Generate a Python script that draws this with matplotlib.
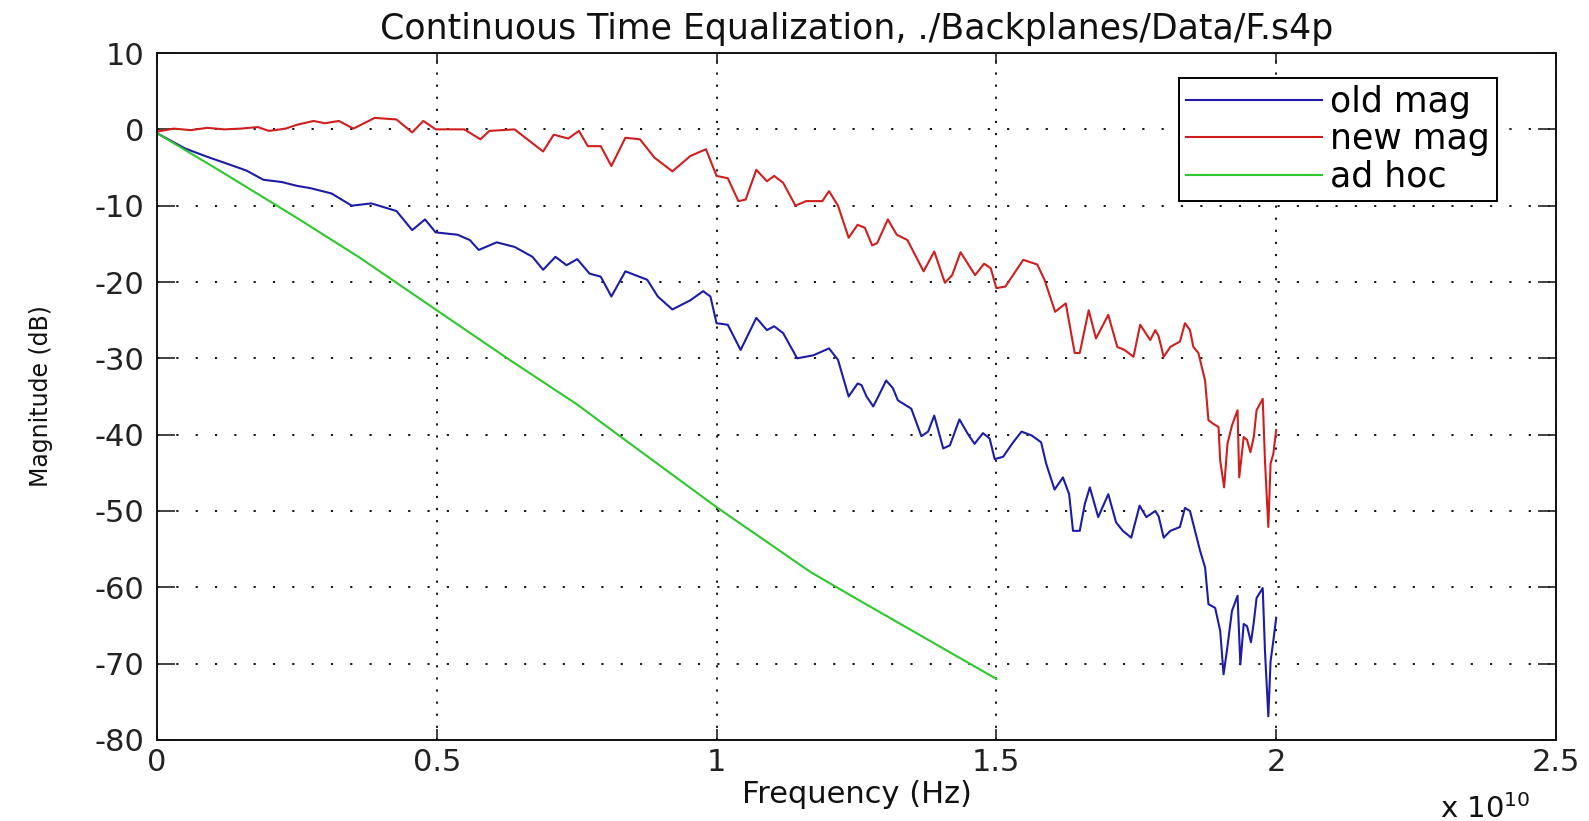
import numpy as np
import matplotlib
matplotlib.use("Agg")
from matplotlib import pyplot as plt
from matplotlib.ticker import FuncFormatter

# frequencies in units of 1e10 Hz, magnitudes in dB
f_old = [0.0, 0.05, 0.09, 0.133, 0.16, 0.19, 0.223, 0.25, 0.274, 0.312, 0.348, 0.383,
         0.428, 0.456, 0.479, 0.498, 0.537, 0.559, 0.575, 0.607, 0.639, 0.671, 0.69,
         0.712, 0.732, 0.751, 0.773, 0.793, 0.812, 0.837, 0.876, 0.895, 0.921, 0.953,
         0.976, 0.989, 1.0, 1.02, 1.043, 1.071, 1.09, 1.103, 1.119, 1.144, 1.173,
         1.201, 1.217, 1.236, 1.252, 1.259, 1.268, 1.28, 1.289, 1.303, 1.315, 1.324,
         1.348, 1.366, 1.378, 1.389, 1.405, 1.417, 1.434, 1.449, 1.461, 1.476, 1.488,
         1.497, 1.512, 1.53, 1.545, 1.563, 1.58, 1.589, 1.604, 1.619, 1.63, 1.637,
         1.649, 1.658, 1.667, 1.682, 1.7, 1.714, 1.726, 1.741, 1.756, 1.768, 1.784,
         1.79, 1.799, 1.811, 1.828, 1.837, 1.846, 1.855, 1.864, 1.873, 1.879, 1.891,
         1.9, 1.906, 1.912, 1.921, 1.931, 1.936, 1.942, 1.948, 1.955, 1.96, 1.965,
         1.976, 1.98, 1.986, 1.99, 1.995, 2.0]
old_mag = [-0.5, -2.5, -3.6, -4.7, -5.4, -6.6, -6.9, -7.4, -7.7, -8.4, -10.0, -9.7,
           -10.7, -13.2, -11.8, -13.5, -13.8, -14.5, -15.8, -14.8, -15.4, -16.7, -18.4,
           -16.7, -17.8, -17.0, -18.9, -19.3, -21.9, -18.6, -19.7, -21.9, -23.6, -22.4,
           -21.2, -21.9, -25.4, -25.6, -28.9, -24.7, -26.3, -25.8, -26.7, -30.0, -29.6,
           -28.7, -30.2, -35.0, -33.3, -33.5, -35.0, -36.3, -35.0, -32.9, -33.9, -35.5,
           -36.6, -40.2, -39.6, -37.5, -41.8, -41.4, -38.0, -39.9, -41.2, -39.8, -40.5,
           -43.2, -42.9, -41.0, -39.6, -40.1, -41.0, -43.8, -47.2, -45.6, -47.8, -52.6,
           -52.6, -49.1, -46.9, -50.8, -47.8, -51.5, -52.6, -53.5, -49.3, -50.8, -50.0,
           -50.7, -53.5, -52.6, -52.1, -49.6, -50.0, -52.6, -55.2, -57.4, -62.2, -62.7,
           -65.7, -71.4, -68.3, -63.1, -61.1, -70.1, -64.8, -65.1, -67.2, -64.6, -61.4,
           -60.1, -68.3, -76.9, -69.7, -67.0, -64.0]

f_new = [0.0, 0.03, 0.06, 0.09, 0.12, 0.15, 0.18, 0.2, 0.23, 0.25, 0.28, 0.3, 0.325,
         0.351, 0.389, 0.428, 0.456, 0.476, 0.498, 0.549, 0.578, 0.594, 0.639, 0.69,
         0.709, 0.735, 0.754, 0.77, 0.793, 0.812, 0.837, 0.863, 0.889, 0.921, 0.953,
         0.981, 1.0, 1.02, 1.039, 1.052, 1.071, 1.09, 1.103, 1.119, 1.141, 1.16, 1.189,
         1.201, 1.217, 1.236, 1.252, 1.265, 1.278, 1.287, 1.306, 1.322, 1.341, 1.37,
         1.389, 1.408, 1.421, 1.436, 1.462, 1.478, 1.49, 1.5, 1.516, 1.548, 1.573,
         1.586, 1.605, 1.624, 1.64, 1.649, 1.665, 1.678, 1.7, 1.716, 1.729, 1.745,
         1.757, 1.775, 1.784, 1.79, 1.799, 1.811, 1.828, 1.837, 1.846, 1.852, 1.861,
         1.867, 1.873, 1.879, 1.888, 1.897, 1.9, 1.907, 1.913, 1.921, 1.931, 1.934,
         1.942, 1.948, 1.954, 1.96, 1.965, 1.976, 1.98, 1.986, 1.99, 1.995, 2.0]
new_mag = [-0.3, 0.1, -0.1, 0.2, 0.0, 0.1, 0.3, -0.2, 0.1, 0.6, 1.1, 0.8, 1.1,
           0.1, 1.5, 1.3, -0.4, 1.1, 0.0, 0.0, -1.3, -0.2, 0.0, -2.9,
           -0.7, -1.2, -0.2, -2.2, -2.2, -4.8, -1.1, -1.3, -3.7, -5.5, -3.5,
           -2.6, -6.1, -6.4, -9.4, -9.2, -5.3, -6.8, -6.1, -7.0, -10.0, -9.4, -9.4,
           -8.1, -10.0, -14.2, -12.5, -12.9, -15.2, -14.9, -11.8, -13.8, -14.5, -18.6,
           -16.0, -20.1, -19.1, -16.1, -19.1, -17.6, -18.2, -20.8, -20.6, -17.1, -17.7,
           -19.7, -23.9, -22.8, -29.3, -29.3, -23.7, -27.4, -24.3, -28.5, -28.9, -29.8,
           -25.6, -27.6, -26.3, -27.1, -29.8, -28.5, -27.8, -25.4, -26.3, -28.5, -29.3,
           -31.1, -32.9, -38.1, -38.6, -39.0, -43.4, -46.9, -41.2, -38.8, -36.8, -45.6,
           -40.3, -40.7, -42.3, -40.3, -36.8, -35.3, -43.4, -52.1, -43.8, -42.5, -39.4]

f_adhoc = [0.0, 0.114, 0.25, 0.36, 0.5, 0.626, 0.75, 0.818, 1.0, 1.168, 1.25, 1.5]
adhoc = [-0.5, -5.5, -11.6, -16.7, -23.7, -30.0, -36.0, -39.7, -49.5, -58.0, -61.5, -72.0]

xticks = [0, 0.5, 1, 1.5, 2, 2.5]
yticks = [10, 0, -10, -20, -30, -40, -50, -60, -70, -80]

plt.rcParams['font.family'] = ['DejaVu Sans']
plt.rcParams['axes.unicode_minus'] = False

fig = plt.figure(figsize=(15.89, 8.21), dpi=100)
ax = fig.add_axes([0.0988, 0.0987, 0.8804, 0.8367])

ax.plot(np.array(f_old) * 1e10, old_mag, color='#1c1ca8', lw=1.5, label='old mag')
ax.plot(np.array(f_new) * 1e10, new_mag, color='#d01e1e', lw=1.5, label='new mag')
ax.plot(np.array(f_adhoc) * 1e10, adhoc, color='#2cc82c', lw=1.5, label='ad hoc')

ax.set_xlim(0, 2.5e10)
ax.set_ylim(-80, 10)
ax.set_xticks(np.array(xticks) * 1e10)
ax.xaxis.set_major_formatter(FuncFormatter(lambda v, p: '%g' % (v / 1e10)))
ax.set_yticks(yticks)

# MATLAB-ish dotted grid
ax.xaxis.grid(True, color='black', linestyle=(0, (1.2, 5.5)), lw=1.3)
ax.yaxis.grid(True, color='black', linestyle=(0, (1.2, 9.5)), lw=1.3)

ax.tick_params(axis='both', direction='in', top=True, right=True, colors='#222222',
               labelsize=22, width=1.2)
ax.tick_params(axis='y', length=13, pad=9)
ax.tick_params(axis='x', length=8, pad=6)
for s in ax.spines.values():
    s.set_linewidth(1.4)
    s.set_color('#111111')

ax.set_title('Continuous Time Equalization, ./Backplanes/Data/F.s4p',
             fontsize=25, pad=10, color='#111111')
ax.set_xlabel('Frequency (Hz)', fontsize=22, labelpad=2, color='#111111')
ax.set_ylabel('Magnitude (dB)', fontsize=17, labelpad=30, color='#111111')
fig.text(0.906, 0.004, r'x 10$^{10}$', fontsize=21, color='#111111')

leg = ax.legend(loc='upper right', bbox_to_anchor=(0.958, 0.964), fontsize=25,
                fancybox=False, edgecolor='black', framealpha=1, handlelength=3.9,
                handletextpad=0.25, borderpad=0.2, labelspacing=0.1, borderaxespad=0)
leg.get_frame().set_linewidth(1.4)

fig.savefig('out.png', dpi=100)
